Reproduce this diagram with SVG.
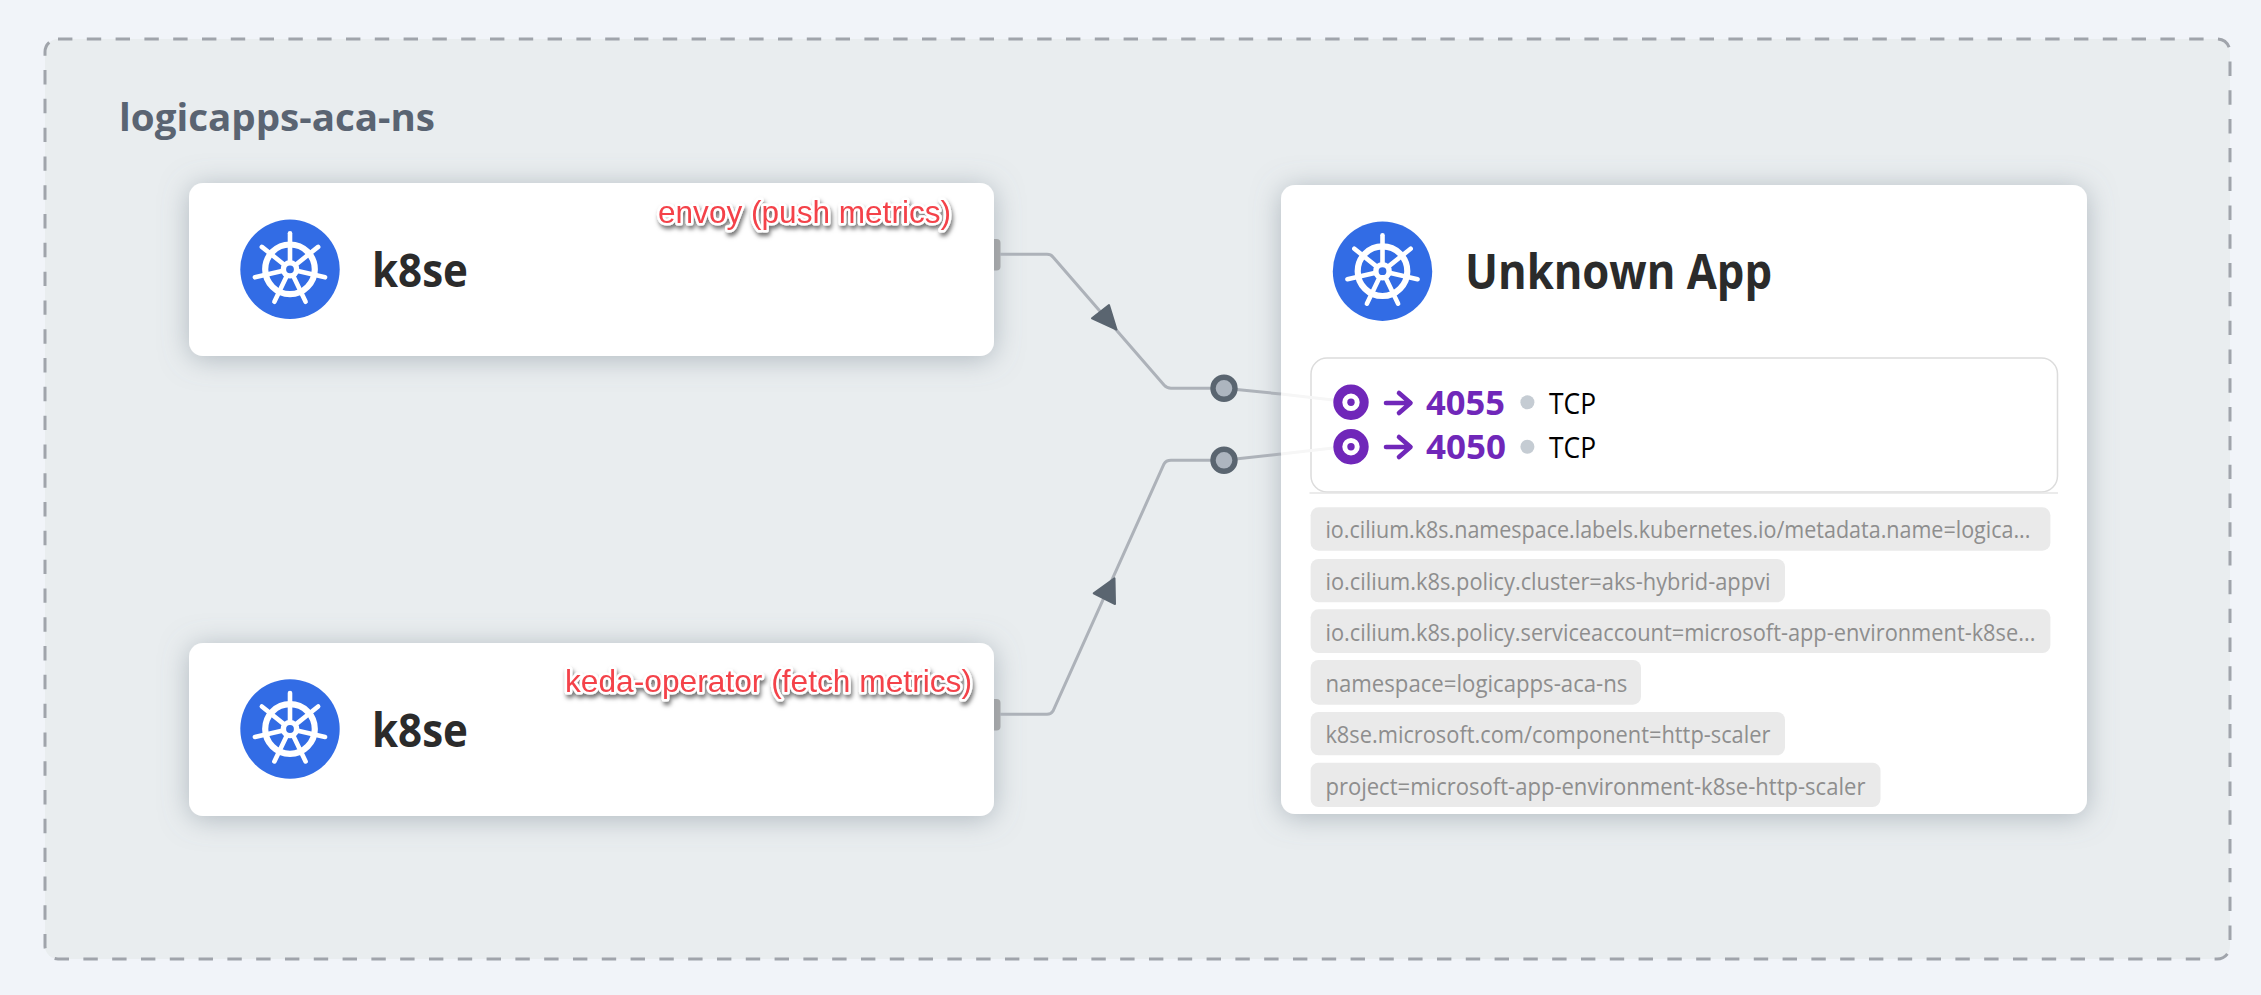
<svg xmlns="http://www.w3.org/2000/svg" xmlns:xlink="http://www.w3.org/1999/xlink" width="2261" height="995" viewBox="0 0 2261 995">
<style>
.card{fill:#fff}
.title{font-family:"Open Sans","Noto Sans",sans-serif;font-weight:700;fill:#2b2b2b}
.tag{fill:#eaeaea}
.tagt{font-family:"Open Sans","Noto Sans",sans-serif;font-size:24px;fill:#8e8e8e}
.port{font-family:"Open Sans","Noto Sans",sans-serif;font-size:34px;font-weight:700;fill:#7027b9}
.proto{font-family:"Open Sans","Noto Sans",sans-serif;font-size:29px;fill:#000}
.note{font-family:"Liberation Sans",Arial,sans-serif;font-size:32px;fill:#f4424a;stroke:#fff;stroke-width:5px;stroke-linejoin:round;paint-order:stroke}
.edge{fill:none;stroke:#adb2b9;stroke-width:3}
.fade{fill:none;stroke:#f6f6f6;stroke-width:3}
.head{fill:#5a6570;stroke:#5a6570;stroke-width:2;stroke-linejoin:round}
.stub{fill:#adadad}
.dot{fill:#adb5bf;stroke:#5a6570;stroke-width:5.4}
</style>
<defs>
<filter id="sh" x="-12%" y="-40%" width="124%" height="180%"><feDropShadow dx="0" dy="3" stdDeviation="14" flood-color="#76828e" flood-opacity="0.5"/></filter>
<filter id="ts" x="-5%" y="-30%" width="110%" height="170%"><feDropShadow dx="1.5" dy="3.5" stdDeviation="2.2" flood-color="#000" flood-opacity="0.55"/></filter>
<g id="helm">
<circle r="49.7" fill="#326ce5"/>
<g fill="none" stroke="#fff" stroke-linecap="round">
<circle r="24.8" stroke-width="6.2"/>
<circle r="6.6" stroke-width="5.4"/>
<g stroke-width="4.6"><path id="sp" d="M0-7V-36"/><use xlink:href="#sp" transform="rotate(51.43)"/><use xlink:href="#sp" transform="rotate(102.86)"/><use xlink:href="#sp" transform="rotate(154.29)"/><use xlink:href="#sp" transform="rotate(205.71)"/><use xlink:href="#sp" transform="rotate(257.14)"/><use xlink:href="#sp" transform="rotate(308.57)"/></g>
</g>
</g>
<g id="target"><circle r="13.2" fill="#fff" stroke="#7027b9" stroke-width="9"/><circle r="3.7" fill="#7027b9"/></g>
<path id="parrow" d="M0 0H24M13-10L24.500 0L13 10" fill="none" stroke="#7027b9" stroke-width="4.600" stroke-linecap="round" stroke-linejoin="round"/>
</defs>
<rect width="2261" height="995" fill="#f1f4f9"/>
<g id="namespace">
<rect x="45" y="39" width="2185" height="920" rx="13" fill="#e9edef" stroke="#a0a4ab" stroke-width="3" stroke-dasharray="14.4 14.4"/>
<text x="119" y="131" font-family="'Open Sans','Noto Sans',sans-serif" font-size="38" font-weight="700" fill="#5a6472" textLength="316" lengthAdjust="spacingAndGlyphs">logicapps-aca-ns</text>
</g>
<g id="node-k8se-top">
<rect class="stub" x="990" y="239" width="10.5" height="31.5" rx="4"/>
<rect class="card" filter="url(#sh)" x="189" y="183" width="805" height="173" rx="14"/>
<use xlink:href="#helm" x="290" y="269.3"/>
<text class="title" x="372" y="287" font-size="46" textLength="96" lengthAdjust="spacingAndGlyphs">k8se</text>
<text class="note" filter="url(#ts)" x="658" y="223" textLength="293" lengthAdjust="spacingAndGlyphs">envoy (push metrics)</text>
</g>
<g id="node-k8se-bottom">
<rect class="stub" x="990" y="699" width="10.5" height="31.5" rx="4"/>
<rect class="card" filter="url(#sh)" x="189" y="643" width="805" height="173" rx="14"/>
<use xlink:href="#helm" x="290" y="729"/>
<text class="title" x="372" y="747" font-size="46" textLength="96" lengthAdjust="spacingAndGlyphs">k8se</text>
<text class="note" filter="url(#ts)" x="565" y="692" textLength="407" lengthAdjust="spacingAndGlyphs">keda-operator (fetch metrics)</text>
</g>
<g id="node-unknown-app">
<rect class="card" filter="url(#sh)" x="1281" y="185" width="806" height="629" rx="14"/>
<use xlink:href="#helm" x="1382.5" y="271.2"/>
<text class="title" x="1465" y="289" font-size="48" textLength="307" lengthAdjust="spacingAndGlyphs">Unknown App</text>
<rect x="1311" y="358" width="746.5" height="134" rx="16" fill="#fff" stroke="#dcdcdc" stroke-width="1.5"/>
<path d="M1309.5 493H2058" stroke="#e4e4e4" stroke-width="1.5"/>
<use xlink:href="#target" x="1351" y="402.3"/>
<use xlink:href="#parrow" x="1386" y="403"/>
<text class="port" x="1426" y="415" textLength="79" lengthAdjust="spacingAndGlyphs">4055</text>
<circle cx="1527.4" cy="402.3" r="7" fill="#c5ccd3"/>
<text class="proto" x="1549" y="413.5" textLength="47" lengthAdjust="spacingAndGlyphs">TCP</text>
<use xlink:href="#target" x="1351" y="446.7"/>
<use xlink:href="#parrow" x="1386" y="447"/>
<text class="port" x="1426" y="459.3" textLength="80" lengthAdjust="spacingAndGlyphs">4050</text>
<circle cx="1527.4" cy="446.7" r="7" fill="#c5ccd3"/>
<text class="proto" x="1549" y="458" textLength="47" lengthAdjust="spacingAndGlyphs">TCP</text>
<rect class="tag" x="1310.6" y="507.3" width="739.8" height="43.4" rx="8"/>
<text class="tagt" x="1325.4" y="538.3" textLength="705" lengthAdjust="spacingAndGlyphs">io.cilium.k8s.namespace.labels.kubernetes.io/metadata.name=logica...</text>
<rect class="tag" x="1310.6" y="559" width="474.4" height="43.3" rx="8"/>
<text class="tagt" x="1325.4" y="590" textLength="445" lengthAdjust="spacingAndGlyphs">io.cilium.k8s.policy.cluster=aks-hybrid-appvi</text>
<rect class="tag" x="1310.6" y="609.3" width="739.8" height="43.7" rx="8"/>
<text class="tagt" x="1325.4" y="640.7" textLength="710" lengthAdjust="spacingAndGlyphs">io.cilium.k8s.policy.serviceaccount=microsoft-app-environment-k8se...</text>
<rect class="tag" x="1310.6" y="660" width="330.4" height="44.7" rx="8"/>
<text class="tagt" x="1325.4" y="691.7" textLength="302" lengthAdjust="spacingAndGlyphs">namespace=logicapps-aca-ns</text>
<rect class="tag" x="1310.6" y="712" width="474.4" height="43.3" rx="8"/>
<text class="tagt" x="1325.4" y="742.7" textLength="445" lengthAdjust="spacingAndGlyphs">k8se.microsoft.com/component=http-scaler</text>
<rect class="tag" x="1310.6" y="762.7" width="569.9" height="44.3" rx="8"/>
<text class="tagt" x="1325.4" y="794.7" textLength="540" lengthAdjust="spacingAndGlyphs">project=microsoft-app-environment-k8se-http-scaler</text>
</g>
<g id="connectors">
<path class="fade" d="M1281 394L1333 400"/>
<path class="fade" d="M1281 454L1333 448"/>
<path class="edge" d="M1000 254.3H1047Q1051 254.3 1053 257L1164 385Q1167 388.3 1171 388.3H1224L1281 394"/>
<path class="edge" d="M1000 714.3H1047Q1051 714.3 1053 711L1164 464Q1166 460.3 1171 460.3H1224L1281 454"/>
<path class="head" d="M1092 318.3L1109 305L1116.5 329.5Z"/>
<path class="head" d="M1093.7 593.3L1114.5 578.3L1115 604Z"/>
<circle class="dot" cx="1224" cy="388.3" r="11"/>
<circle class="dot" cx="1224" cy="460.3" r="11"/>
</g>
</svg>
